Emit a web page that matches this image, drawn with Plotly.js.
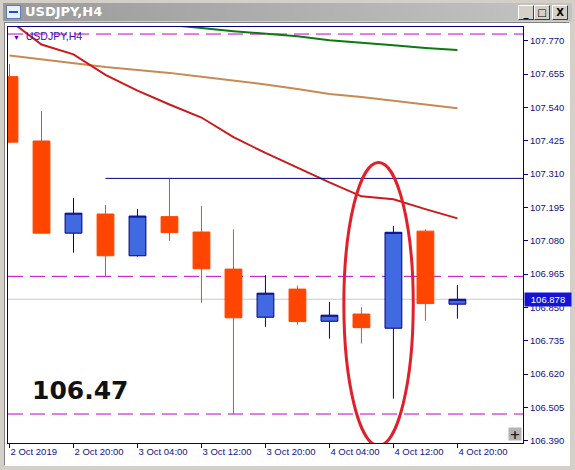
<!DOCTYPE html>
<html>
<head>
<meta charset="utf-8">
<script src="https://cdn.plot.ly/plotly-3.0.1.min.js"></script>
<style>
    body { margin: 0; background: #d4d0c8; }
    #win { position: absolute; left: 0; top: 0; width: 575px; height: 470px; background: #d4d0c8; overflow: hidden; }
    #titlebar { position: absolute; left: 3px; top: 3px; width: 569px; height: 18px; background: linear-gradient(to right, #9a9a9a, #c4c4c4); }
    #titlebar .icon { position: absolute; left: 3px; top: 2px; width: 13px; height: 12px; background: #e8f0ff; border: 1px solid #5a7ab8; }
    #titlebar .icon:after { content: ''; position: absolute; left: 2px; top: 5px; width: 9px; height: 4px; border-top: 2px solid #2050c0; }
    #titlebar .text { position: absolute; left: 22px; top: 1px; font: bold 13px Tahoma, "DejaVu Sans", sans-serif; color: #fff; }
    .btn { position: absolute; top: 2px; width: 14px; height: 13px; background: #d4d0c8; border: 1px solid; border-color: #fff #404040 #404040 #fff;
           font: bold 10px "DejaVu Sans", sans-serif; color: #000; text-align: center; line-height: 13px; }
    #client { position: absolute; left: 4px; top: 22px; width: 564px; height: 442px; background: #fff; border: 1px solid; border-color: #808080 #fff #fff #808080; }
    #chart { position: absolute; left: 0; top: 0; width: 575px; height: 470px; }
</style>
</head>
<body>
<div id="win">
    <div id="titlebar">
        <div class="icon"></div>
        <div class="text">USDJPY,H4</div>
        <div class="btn" style="left:515px;">_</div>
        <div class="btn" style="left:531px;">&#9633;</div>
        <div class="btn" style="left:549px;">X</div>
    </div>
    <div id="client"></div>
    <div id="chart"></div>
</div>
<script>
// H4 bars, 2 Oct 12:00 .. 4 Oct 20:00
const barIndex = [0, 1, 2, 3, 4, 5, 6, 7, 8, 9, 10, 11, 12, 13, 14];
const open  = [107.646, 107.424, 107.106, 107.172, 107.028, 107.163, 107.110, 106.982, 106.816, 106.913, 106.802, 106.827, 106.778, 107.113, 106.861];
const high  = [107.690, 107.527, 107.228, 107.203, 107.189, 107.295, 107.200, 107.119, 106.961, 106.925, 106.869, 106.850, 107.131, 107.119, 106.927];
const low   = [107.418, 107.104, 107.039, 106.956, 107.025, 107.080, 106.866, 106.482, 106.783, 106.790, 106.742, 106.725, 106.535, 106.804, 106.811];
const close = [107.420, 107.106, 107.175, 107.028, 107.165, 107.108, 106.983, 106.814, 106.899, 106.801, 106.823, 106.780, 107.109, 106.863, 106.878];

// moving averages read at each bar
const maGreen = [107.876, 107.866, 107.855, 107.845, 107.835, 107.824, 107.814, 107.803, 107.793, 107.785, 107.772, 107.764, 107.754, 107.745, 107.738];
const maTan   = [107.719, 107.705, 107.691, 107.679, 107.669, 107.659, 107.646, 107.633, 107.619, 107.603, 107.586, 107.576, 107.564, 107.550, 107.537];
const maRed   = [107.840, 107.757, 107.723, 107.652, 107.598, 107.550, 107.505, 107.437, 107.383, 107.331, 107.281, 107.233, 107.223, 107.189, 107.157];

// drawn objects
const dashLevels = [107.793, 106.957, 106.482];
const trendLevel = 107.295;
const trendStart = 3;
const bidPrice = 106.878;
const noteText = '106.47';
const ellipseBox = { x0: 10.45, x1: 12.62, y0: 106.373, y1: 107.350 };

// axes
const priceTicks = [106.390, 106.505, 106.620, 106.735, 106.850, 106.965, 107.080, 107.195, 107.310, 107.425, 107.540, 107.655, 107.770];
const timeTicks = [0, 2, 4, 6, 8, 10, 12, 14];
const timeLabels = ['2 Oct 2019', '2 Oct 20:00', '3 Oct 04:00', '3 Oct 12:00', '3 Oct 20:00', '4 Oct 04:00', '4 Oct 12:00', '4 Oct 20:00'];

const NAVY = '#000080';
const tickFont = { family: 'Liberation Sans, Arial, sans-serif', size: 9.5, color: '#10108a' };
const xMax = 16.05;

const traces = [
    { // slow MA
        x: barIndex, y: maGreen, type: 'scatter', mode: 'lines',
        line: { color: '#0b7a12', width: 2 }, hoverinfo: 'skip'
    },
    { // mid MA
        x: barIndex, y: maTan, type: 'scatter', mode: 'lines',
        line: { color: '#c88a52', width: 2 }, hoverinfo: 'skip'
    },
    { // fast MA
        x: barIndex, y: maRed, type: 'scatter', mode: 'lines',
        line: { color: '#cc1a1a', width: 2 }, hoverinfo: 'skip'
    },
    { // trend line
        x: [trendStart, xMax], y: [trendLevel, trendLevel], type: 'scatter', mode: 'lines',
        line: { color: NAVY, width: 1 }, hoverinfo: 'skip'
    },
    {
        x: barIndex, open: open, high: high, low: low, close: close,
        type: 'candlestick', whiskerwidth: 0,
        increasing: { line: { color: NAVY, width: 1 }, fillcolor: '#4169e1' },
        decreasing: { line: { color: '#ff4500', width: 1 }, fillcolor: '#ff4500' }
    }
];

const shapes = dashLevels.map(v => ({
    type: 'line', xref: 'paper', x0: 0, x1: 1, yref: 'y', y0: v, y1: v,
    line: { color: '#c000c8', width: 1, dash: '15px,7px' }, layer: 'below'
}));
shapes.push({
    type: 'line', xref: 'paper', x0: 0, x1: 1, yref: 'y', y0: bidPrice, y1: bidPrice,
    line: { color: '#c8c8c8', width: 1 }, layer: 'below'
});
shapes.push({
    type: 'circle', xref: 'x', yref: 'y',
    x0: ellipseBox.x0, x1: ellipseBox.x1, y0: ellipseBox.y0, y1: ellipseBox.y1,
    line: { color: '#e0202a', width: 3 }
});

const annotations = [
    {
        xref: 'paper', yref: 'paper', x: 0.042, y: 0.127, xanchor: 'left', yanchor: 'middle',
        text: noteText, showarrow: false,
        font: { family: 'DejaVu Sans, Verdana, sans-serif', size: 25, weight: 'bold', color: '#111' }
    },
    {
        xref: 'paper', yref: 'paper', x: 0, y: 1, xanchor: 'left', yanchor: 'top', xshift: 3, yshift: -1,
        text: '<span style="font-size:7px">▼</span>  USDJPY,H4', showarrow: false,
        font: { family: 'Liberation Sans, Arial, sans-serif', size: 10.5, color: '#3a10a8' }
    },
    { // bid tag
        xref: 'paper', yref: 'y', x: 1, y: bidPrice, xanchor: 'left', yanchor: 'middle', xshift: 1,
        text: bidPrice.toFixed(3), showarrow: false, bgcolor: '#1414d4', borderpad: 1, width: 44, height: 11,
        font: { family: 'Liberation Sans, Arial, sans-serif', size: 9.5, color: '#fff' }
    },
    { // zoom button
        xref: 'paper', yref: 'paper', x: 1, y: 0, xanchor: 'right', yanchor: 'bottom', xshift: -1, yshift: 2,
        text: '<b>+</b>', showarrow: false, bgcolor: '#b4b4b4', borderpad: 0, width: 12, height: 12,
        font: { family: 'DejaVu Sans, sans-serif', size: 13, color: '#222' }
    }
];

const layout = {
    width: 575, height: 470,
    margin: { l: 8, r: 52, t: 27, b: 27 },
    paper_bgcolor: 'rgba(0,0,0,0)',
    plot_bgcolor: '#ffffff',
    showlegend: false,
    boxgap: 0.25,
    xaxis: {
        range: [-0.047, xMax], showgrid: false, zeroline: false,
        showline: true, mirror: true, linecolor: NAVY, linewidth: 1,
        tickvals: timeTicks, ticktext: timeLabels, ticks: 'outside', ticklen: 4, tickcolor: NAVY,
        ticklabelposition: 'outside right', tickfont: tickFont,
        rangeslider: { visible: false }, fixedrange: true
    },
    yaxis: {
        range: [106.382, 107.8173], side: 'right', showgrid: false, zeroline: false,
        showline: true, mirror: true, linecolor: NAVY, linewidth: 1,
        tickvals: priceTicks, tickformat: '.3f', ticks: 'outside', ticklen: 4, tickcolor: NAVY,
        tickfont: tickFont, fixedrange: true
    },
    shapes: shapes,
    annotations: annotations
};

Plotly.newPlot('chart', traces, layout, { displayModeBar: false, staticPlot: true });
</script>
</body>
</html>
